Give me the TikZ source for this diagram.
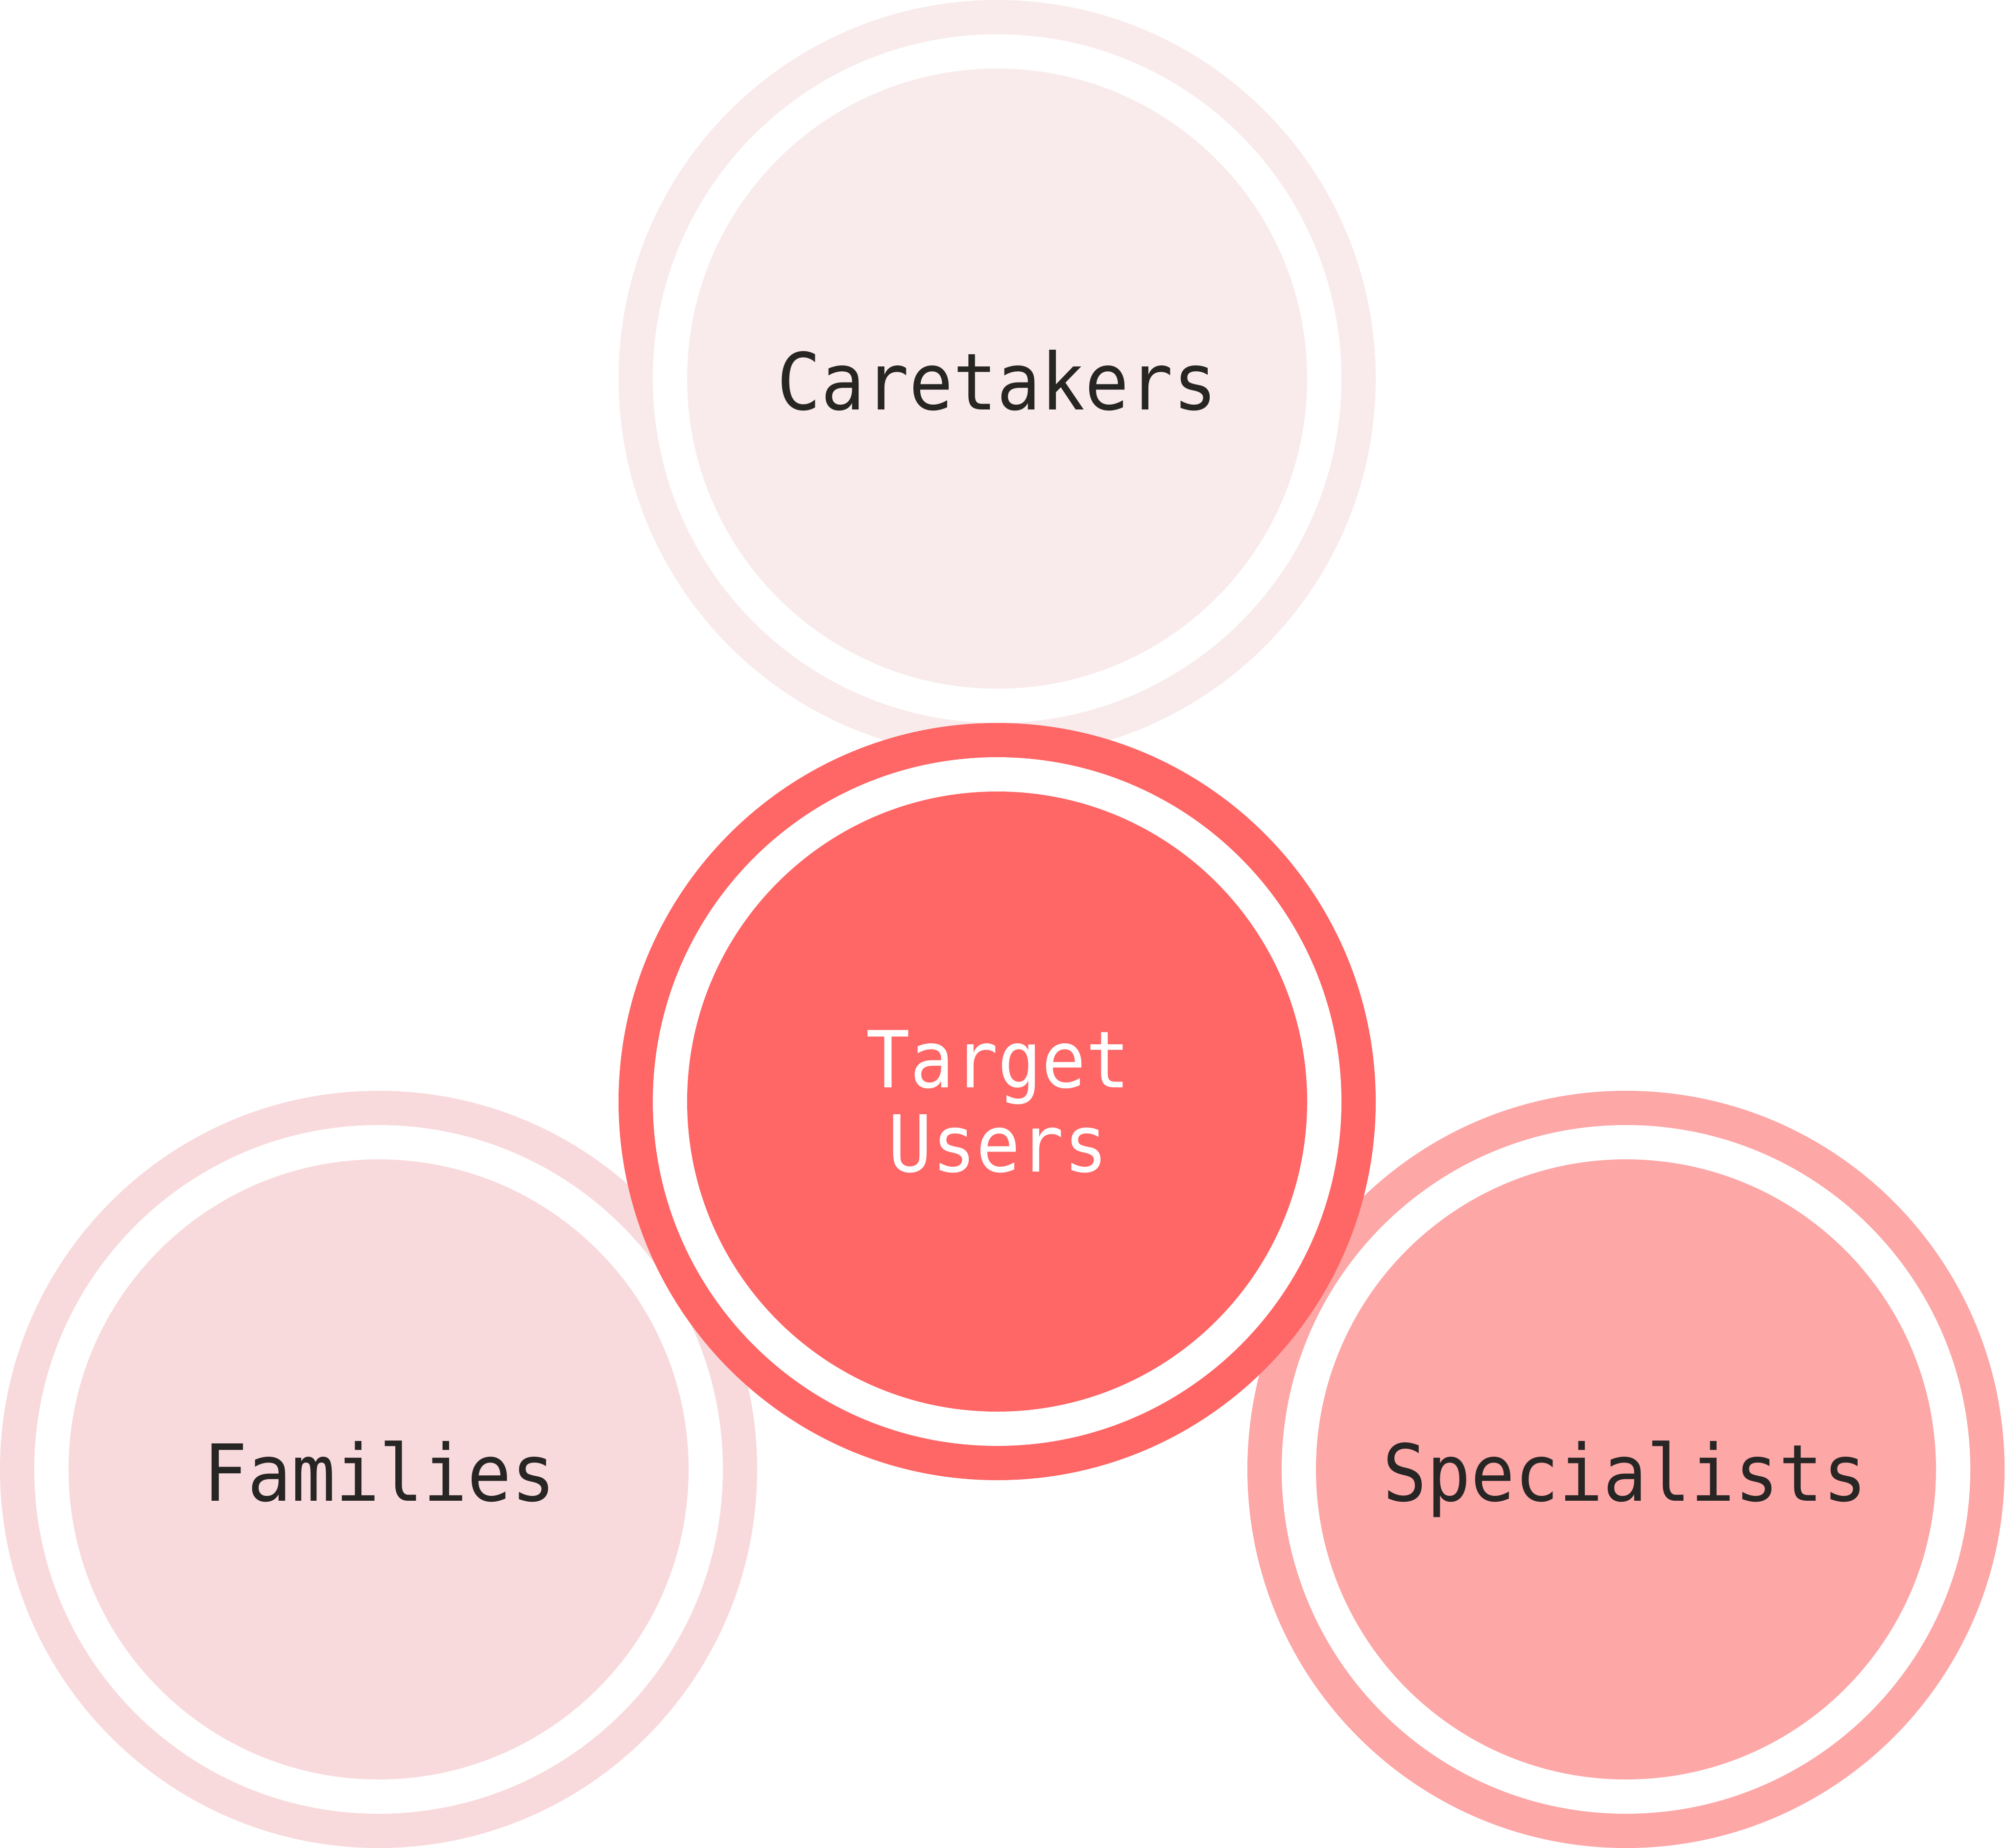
\documentclass[tikz,border=0pt]{standalone}
\usepackage{fontspec}
\newfontfamily\labelfont[FakeStretch=0.93]{DejaVu Sans Mono}
\definecolor{cTop}{HTML}{F9EBEB}
\definecolor{cMid}{HTML}{FF6666}
\definecolor{cFam}{HTML}{F9DADC}
\definecolor{cSpec}{HTML}{FDA7A7}
\definecolor{cText}{HTML}{282625}
\tikzset{
  lbl/.style={font=\labelfont\fontsize{45.7}{48.9}\selectfont, inner sep=0pt, text=cText},
}
\newcommand{\ringdisc}[2]{%
  \fill[#2] (#1) circle (7.73);
  \fill[white] (#1) circle (7.03);
  \fill[#2] (#1) circle (6.33);
}
\begin{document}
\begin{tikzpicture}
\useasboundingbox (0,0) rectangle (40.96,-37.73);
\coordinate (fam) at (7.73,-30.00);
\coordinate (spec) at (33.20,-30.00);
\coordinate (care) at (20.36,-7.73);
\coordinate (mid) at (20.36,-22.49);
\ringdisc{fam}{cFam}
\ringdisc{spec}{cSpec}
\ringdisc{care}{cTop}
\ringdisc{mid}{cMid}
\node[lbl, anchor=base] (tcare) at (20.36,-8.36) {Caretakers};
\node[lbl, anchor=base] (tfam) at (7.75,-30.64) {Families};
\node[lbl, anchor=base] (tspec) at (33.18,-30.64) {Specialists};
\node[lbl, text=white, align=center, anchor=center] (tmid) at (20.38,-22.49) {Target\\Users};
\end{tikzpicture}
\end{document}
